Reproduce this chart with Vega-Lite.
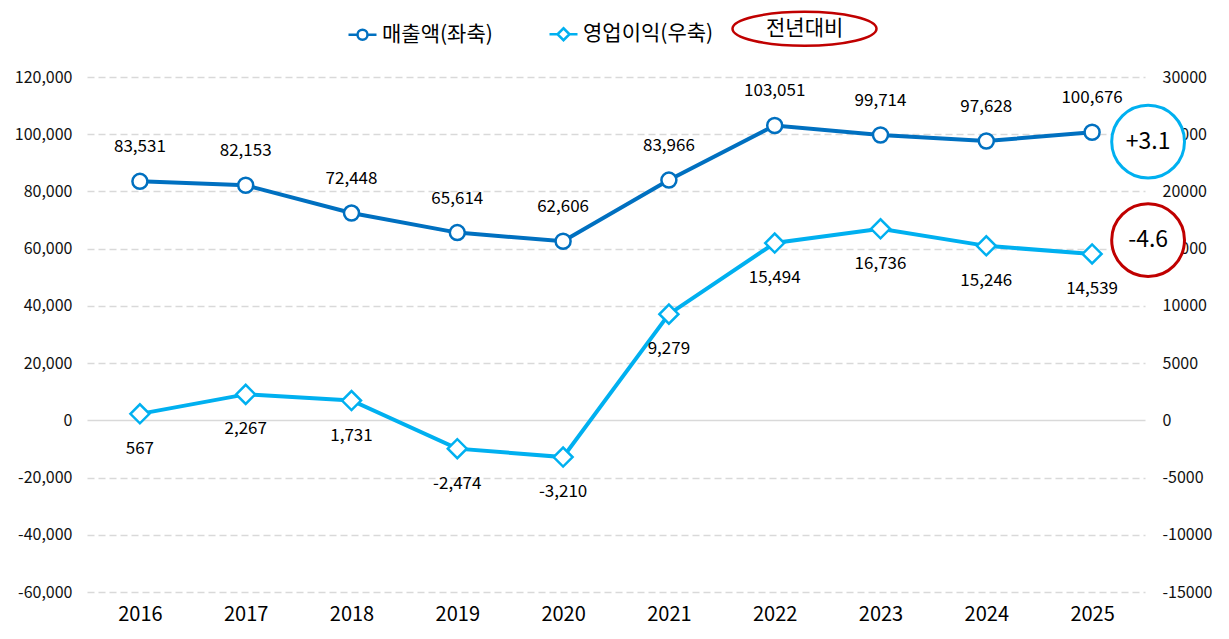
{
  "$schema": "https://vega.github.io/schema/vega-lite/v6.json",
  "width": 1058,
  "height": 515,
  "autosize": "none",
  "padding": {"left": 87, "top": 77, "right": 84, "bottom": 47},
  "background": "white",
  "config": {
    "locale": {"number": {"decimal": ".", "thousands": ",", "grouping": [3], "currency": ["", ""], "minus": "-"}},
    "view": {"stroke": null},
    "font": "Noto Sans CJK KR",
    "axis": {
      "domain": false,
      "ticks": false,
      "title": null,
      "labelFont": "Noto Sans CJK KR",
      "labelColor": "#111111",
      "labelFontSize": 16,
      "gridColor": "#d9d9d9",
      "gridWidth": 1.5
    },
    "legend": {
      "orient": "none",
      "legendX": 265,
      "legendY": -59,
      "direction": "horizontal",
      "title": null,
      "padding": 0,
      "labelFont": "Noto Sans CJK KR",
      "labelFontSize": 21,
      "labelColor": "#000000",
      "labelOffset": 9,
      "columnPadding": 13,
      "symbolSize": 100,
      "symbolStrokeWidth": 2.5
    },
    "text": {"font": "Noto Sans CJK KR", "color": "#000000"}
  },
  "datasets": {
    "sales": [
      {"year": "2016", "value": 83531},
      {"year": "2017", "value": 82153},
      {"year": "2018", "value": 72448},
      {"year": "2019", "value": 65614},
      {"year": "2020", "value": 62606},
      {"year": "2021", "value": 83966},
      {"year": "2022", "value": 103051},
      {"year": "2023", "value": 99714},
      {"year": "2024", "value": 97628},
      {"year": "2025", "value": 100676}
    ],
    "profit": [
      {"year": "2016", "value": 567},
      {"year": "2017", "value": 2267},
      {"year": "2018", "value": 1731},
      {"year": "2019", "value": -2474},
      {"year": "2020", "value": -3210},
      {"year": "2021", "value": 9279},
      {"year": "2022", "value": 15494},
      {"year": "2023", "value": 16736},
      {"year": "2024", "value": 15246},
      {"year": "2025", "value": 14539}
    ],
    "yoy": [
      {"year": "2025", "label": "+3.1", "pos": 97400, "col": "#00b0f0"},
      {"year": "2025", "label": "-4.6", "pos": 63000, "col": "#c00000"}
    ],
    "keys": [
      {"series": "매출액(좌축)"},
      {"series": "영업이익(우축)"},
      {"series": "전년대비"}
    ]
  },
  "layer": [
    {
      "data": {"name": "sales"},
      "encoding": {
        "x": {
          "field": "year",
          "type": "ordinal",
          "axis": {"labelAngle": 0, "labelFontSize": 20, "labelColor": "#000000", "labelPadding": 12, "grid": false}
        },
        "y": {
          "field": "value",
          "type": "quantitative",
          "scale": {"domain": [-60000, 120000], "nice": false},
          "axis": {
            "orient": "left",
            "values": [-60000, -40000, -20000, 0, 20000, 40000, 60000, 80000, 100000, 120000],
            "format": ",.0f",
            "labelPadding": 15,
            "gridDash": {"condition": {"test": "datum.value === 0", "value": []}, "value": [7, 4]}
          }
        }
      },
      "layer": [
        {"mark": {"type": "line", "color": "#0070c0", "strokeWidth": 4}},
        {"mark": {"type": "point", "shape": "circle", "filled": false, "fill": "white", "stroke": "#0070c0", "opacity": 1, "size": 225, "strokeWidth": 2.5}},
        {
          "mark": {"type": "text", "dy": -34, "fontSize": 17},
          "encoding": {"text": {"field": "value", "type": "quantitative", "format": ","}}
        }
      ]
    },
    {
      "data": {"name": "profit"},
      "encoding": {
        "x": {"field": "year", "type": "ordinal"},
        "y": {
          "field": "value",
          "type": "quantitative",
          "scale": {"domain": [-15000, 30000], "nice": false},
          "axis": {
            "orient": "right",
            "values": [-15000, -10000, -5000, 0, 5000, 10000, 15000, 20000, 25000, 30000],
            "format": ".0f",
            "labelPadding": 17,
            "grid": false
          }
        }
      },
      "layer": [
        {"mark": {"type": "line", "color": "#00b0f0", "strokeWidth": 4}},
        {"mark": {"type": "point", "shape": "diamond", "filled": false, "fill": "white", "stroke": "#00b0f0", "opacity": 1, "size": 361, "strokeWidth": 2.5}},
        {
          "mark": {"type": "text", "dy": 35, "fontSize": 17},
          "encoding": {"text": {"field": "value", "type": "quantitative", "format": ","}}
        }
      ]
    },
    {
      "data": {"name": "yoy"},
      "encoding": {
        "x": {"field": "year", "type": "ordinal"},
        "y": {
          "field": "pos",
          "type": "quantitative",
          "scale": {"domain": [-60000, 120000], "nice": false},
          "axis": null
        }
      },
      "layer": [
        {
          "mark": {"type": "point", "shape": "circle", "filled": false, "fill": "white", "opacity": 1, "size": 5300, "strokeWidth": 3, "xOffset": 56},
          "encoding": {"stroke": {"field": "col", "type": "nominal", "scale": null}}
        },
        {
          "mark": {"type": "text", "fontSize": 23, "xOffset": 56},
          "encoding": {"text": {"field": "label", "type": "nominal"}}
        }
      ]
    },
    {
      "data": {"name": "keys"},
      "mark": {"type": "point", "filled": false, "opacity": 0, "strokeWidth": 2.5},
      "encoding": {
        "x": {"value": 0},
        "y": {"value": 0},
        "color": {
          "field": "series",
          "type": "nominal",
          "scale": {"domain": ["매출액(좌축)", "영업이익(우축)", "전년대비"], "range": ["#0070c0", "#00b0f0", "#c00000"]},
          "legend": {
            "title": null,
            "encode": {"symbols": {"update": {"opacity": {"value": 1}, "fill": {"value": "transparent"}}}}
          }
        },
        "shape": {
          "field": "series",
          "type": "nominal",
          "scale": {
            "domain": ["매출액(좌축)", "영업이익(우축)", "전년대비"],
            "range": [
              "M-2.8,0L-1,0M1,0L2.8,0M-1,0A1,1,0,1,0,1,0A1,1,0,1,0,-1,0Z",
              "M-10.4,0M-2.8,0L-1.2,0M1.2,0L2.8,0M0,-1.2L1.2,0L0,1.2L-1.2,0Z",
              "M-2.8,0A14.4,3.4,0,1,0,26,0A14.4,3.4,0,1,0,-2.8,0Z"
            ]
          },
          "legend": {"title": null}
        }
      }
    }
  ],
  "resolve": {"scale": {"y": "independent"}}
}
